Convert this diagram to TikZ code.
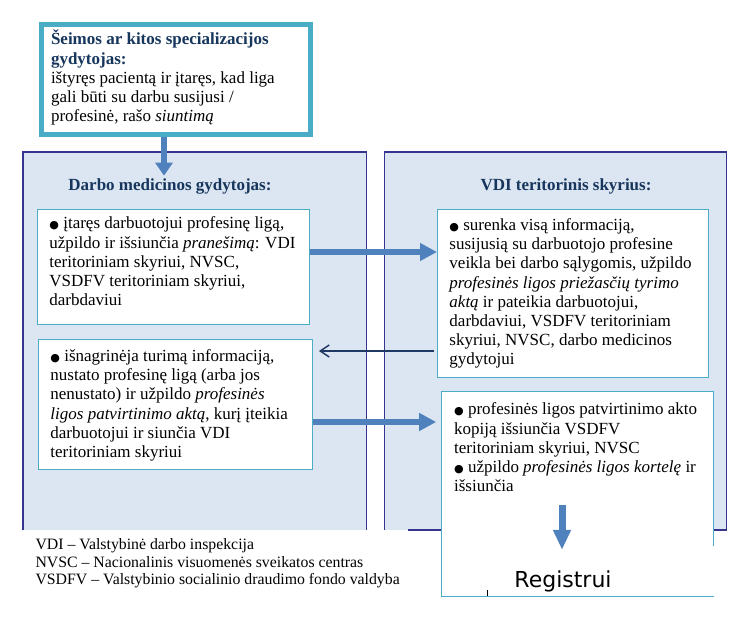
\documentclass[tikz,border=0pt]{standalone}
\usepackage{fontspec}
\setmainfont{Liberation Serif}
\newfontfamily\regfont{DejaVu Sans}
\usetikzlibrary{arrows.meta}

\definecolor{boxteal}{HTML}{4BACC6}
\definecolor{panelfill}{HTML}{DCE6F2}
\definecolor{panelline}{HTML}{35358F}
\definecolor{arrowblue}{HTML}{4F81BD}
\definecolor{arrownavy}{HTML}{1F3864}
\definecolor{headblue}{HTML}{17365D}

\newcommand{\blt}{{\regfont\fontsize{11}{11}\selectfont ●}}

\begin{document}
\begin{tikzpicture}[
    x=1pt,y=-1pt,
    bodyfont/.style={font=\fontsize{17}{19.2}\selectfont},
    infobox/.style={draw=boxteal,line width=0.9pt,fill=white,bodyfont,
      align=flush left,anchor=north west,inner xsep=12pt,inner ysep=4pt},
    heading/.style={font=\fontsize{17}{19.2}\selectfont\bfseries,text=headblue,anchor=base},
    bigarrow/.style={line width=6pt,draw=arrowblue,-{Triangle[width=17pt,length=#1]}},
    bigarrow/.default=17pt,
    thinarrow/.style={line width=1.5pt,draw=arrownavy,-{Straight Barb[length=9pt,width=12pt]}},
    panelborder/.style={draw=panelline,line width=1.2pt}
  ]
  \useasboundingbox (0,0) rectangle (750,620);

  % the two panels
  \fill[panelfill] (23,152) rectangle (366.7,530);
  \draw[panelborder] (23,530) -- (23,152) -- (366.7,152) -- (366.7,530);
  \fill[panelfill] (384.3,152) rectangle (726.7,530);
  \draw[panelborder] (408,530) -- (726.7,530) -- (726.7,152) -- (384.3,152) -- (384.3,530);

  \node[infobox,line width=5pt,inner xsep=9.5pt,text width=250pt,
    text height=16.5pt,text depth=85.5pt] (seima) at (39,22)
    {{\bfseries\color{headblue}Šeimos ar kitos specializacijos\\
     gydytojas:}\\
     ištyręs pacientą ir įtaręs, kad liga\\
     gali būti su darbu susijusi /\\
     profesinė, rašo \textit{siuntimą}};

  \node[heading] (dmgtitle) at (170,191) {Darbo medicinos gydytojas:};
  \node[heading] (vdititle) at (566,191) {VDI teritorinis skyrius:};

  \node[infobox,text width=248pt,text height=15.5pt,text depth=91.5pt] (dmg1) at (37,209)
    {\blt{} įtaręs darbuotojui profesinę ligą,\\
     užpildo ir išsiunčia \textit{pranešimą}: VDI\\
     teritoriniam skyriui, NVSC,\\
     VSDFV teritoriniam skyriui,\\
     darbdaviui};

  \node[infobox,text width=247pt,text height=17pt,text depth=143pt] (vdi1) at (437,209)
    {\blt{} surenka visą informaciją,\\
     susijusią su darbuotojo profesine\\
     veikla bei darbo sąlygomis, užpildo\\
     \textit{profesinės ligos priežasčių tyrimo}\\
     \textit{aktą} ir pateikia darbuotojui,\\
     darbdaviui, VSDFV teritoriniam\\
     skyriui, NVSC, darbo medicinos\\
     gydytojui};

  \node[infobox,text width=250pt,text height=18pt,text depth=104pt] (dmg2) at (38,339)
    {\blt{} išnagrinėja turimą informaciją,\\
     nustato profesinę ligą (arba jos\\
     nenustato) ir užpildo \textit{profesinės}\\
     \textit{ligos patvirtinimo aktą}, kurį įteikia\\
     darbuotojui ir siunčia VDI\\
     teritoriniam skyriui};

  \node[infobox,draw=none,text width=247pt,text height=19.5pt,text depth=177.5pt] (vdi2) at (441.7,391)
    {\blt{} profesinės ligos patvirtinimo akto\\
     kopiją išsiunčia VSDFV\\
     teritoriniam skyriui, NVSC\\
     \blt{} užpildo \textit{profesinės ligos kortelę} ir\\
     išsiunčia};
  \draw[boxteal,line width=0.9pt] ([yshift=51pt]vdi2.south east) -- (vdi2.north east)
    -- (vdi2.north west) -- (vdi2.south west) -- (vdi2.south east);
  \draw[line width=0.8pt] (487.7,590) -- (487.7,596);

  \node[font=\regfont\fontsize{22}{26}\selectfont,anchor=base] (registr) at (563,587) {Registrui};

  % arrows
  \draw[bigarrow=13pt] ([xshift=-12pt]seima.south) -- ([xshift=-12pt]seima.south |- dmgtitle.north);

  \coordinate (a1) at ([yshift=-43pt]dmg1.north east);
  \draw[bigarrow] (a1) -- (a1 -| vdi1.west);

  \coordinate (b1) at ([yshift=-142pt]vdi1.north west);
  \draw[thinarrow,shorten <=3.5pt,shorten >=6pt] (b1) -- (b1 -| dmg2.east);

  \coordinate (c1) at ([yshift=-83pt]dmg2.north east);
  \draw[bigarrow,shorten >=5.5pt] (c1) -- (c1 -| vdi2.west);

  \coordinate (regtop) at (562,505);
  \draw[bigarrow=20pt,line width=7pt,shorten >=17pt] (regtop) -- (regtop |- registr.north);

  \node[anchor=base west,align=flush left,font=\fontsize{15.8}{17.5}\selectfont] (legend) at (32,584.5)
    {VDI – Valstybinė darbo inspekcija\\
     NVSC – Nacionalinis visuomenės sveikatos centras\\
     VSDFV – Valstybinio socialinio draudimo fondo valdyba};

\end{tikzpicture}
\end{document}
